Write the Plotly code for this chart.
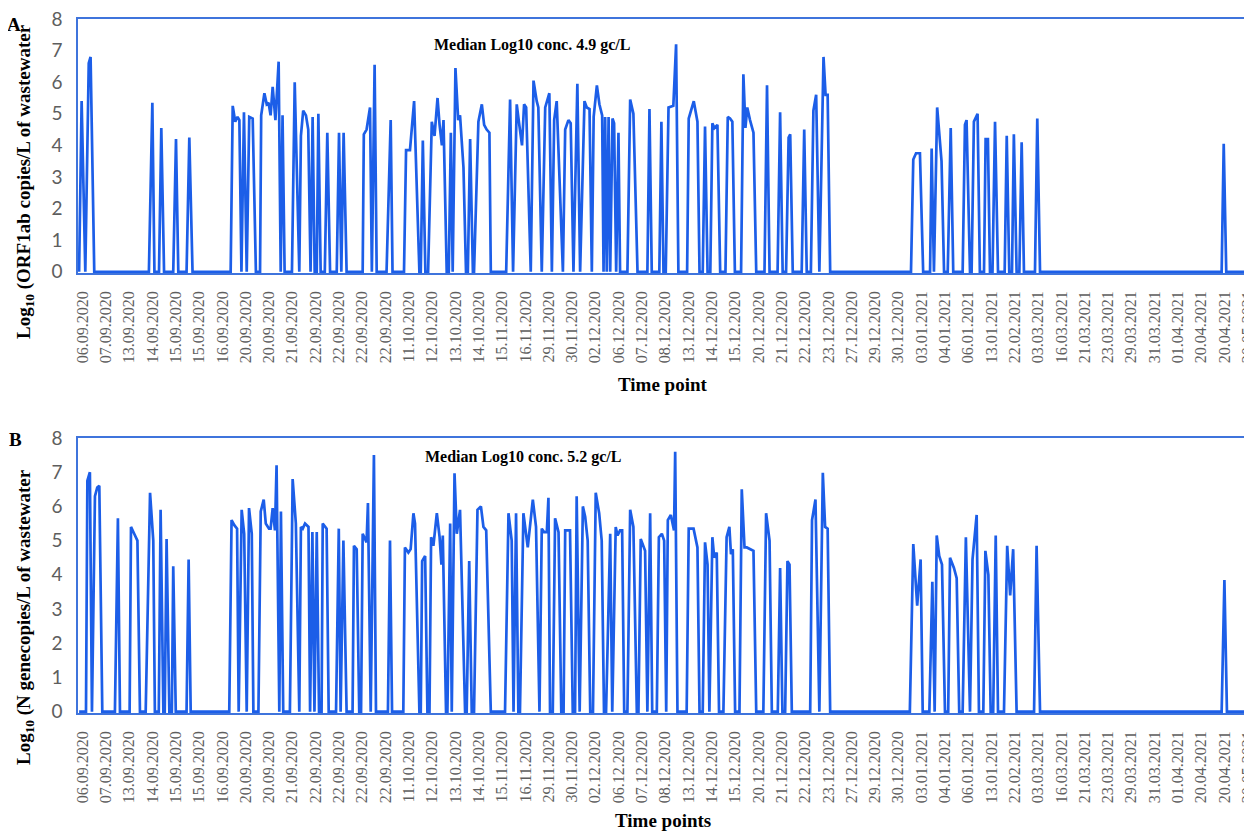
import plotly.graph_objects as go

# ---------------- data ----------------
dates = ["06.09.2020", "07.09.2020", "13.09.2020", "14.09.2020", "15.09.2020", "15.09.2020",
         "16.09.2020", "20.09.2020", "20.09.2020", "21.09.2020", "22.09.2020", "22.09.2020",
         "22.09.2020", "22.09.2020", "11.10.2020", "12.10.2020", "13.10.2020", "14.10.2020",
         "15.11.2020", "16.11.2020", "29.11.2020", "30.11.2020", "02.12.2020", "06.12.2020",
         "07.12.2020", "08.12.2020", "13.12.2020", "14.12.2020", "15.12.2020", "20.12.2020",
         "21.12.2020", "22.12.2020", "23.12.2020", "27.12.2020", "29.12.2020", "30.12.2020",
         "03.01.2021", "04.01.2021", "06.01.2021", "13.01.2021", "22.02.2021", "03.03.2021",
         "16.03.2021", "21.03.2021", "23.03.2021", "29.03.2021", "31.03.2021", "01.04.2021",
         "20.04.2021", "20.04.2021", "20.05.2021"]

# Panel A: ORF1ab (sample position, log10 gc/L)
a_pos = [0.0, 1.1, 2.7, 4.2, 5.0, 6.6, 30.4, 31.9, 32.8, 34.8, 35.8, 37.0, 41.0, 42.2, 43.2,
         46.8, 48.0, 49.4, 66.0, 66.9, 68.0, 69.0, 69.8, 70.7, 71.8, 73.0, 74.1, 75.6, 77.0,
         78.8, 79.3, 80.7, 81.7, 82.5, 83.4, 84.3, 85.5, 86.9, 87.8, 88.6, 89.5, 92.7, 93.9,
         95.9, 96.6, 97.6, 98.8, 99.8, 100.8, 101.7, 102.6, 103.5, 104.2, 105.2, 107.0, 108.1,
         109.3, 112.2, 113.2, 114.2, 115.2, 116.5, 123.5, 124.0, 125.2, 126.7, 127.5, 128.7,
         129.6, 133.9, 135.7, 136.5, 141.5, 142.4, 144.1, 145.9, 148.2, 148.8, 149.7, 150.8,
         152.0, 153.6, 154.8, 156.1, 157.0, 158.0, 158.7, 160.1, 161.0, 161.9, 162.7, 163.9,
         165.1, 165.9, 167.4, 168.5, 169.3, 170.3, 171.5, 172.0, 173.9, 175.4, 176.4, 177.5,
         178.7, 179.3, 186.0, 187.7, 189.0, 190.6, 191.8, 192.9, 193.8, 194.7, 196.7, 197.9,
         199.3, 200.0, 201.5, 203.0, 204.8, 205.9, 206.9, 208.0, 210.7, 211.7, 213.1, 214.1,
         215.3, 217.0, 218.2, 220.1, 221.1, 222.3, 223.3, 224.1, 225.5, 226.6, 227.8, 228.4,
         229.1, 229.8, 230.6, 231.3, 232.3, 233.0, 233.9, 234.9, 235.6, 238.8, 240.0, 241.4,
         243.2, 247.5, 248.4, 249.4, 252.7, 253.6, 254.5, 255.5, 256.7, 258.8, 260.0, 261.0,
         264.8, 265.5, 267.7, 269.3, 270.2, 271.6, 272.6, 273.7, 274.9, 275.8, 276.7, 278.0,
         279.2, 281.5, 282.5, 283.5, 284.5, 285.6, 288.3, 289.3, 290.2, 291.0, 292.2, 293.7,
         294.9, 298.5, 299.6, 300.7, 304.2, 305.3, 306.4, 307.9, 309.0, 309.7, 310.8, 314.7,
         315.8, 316.9, 318.7, 319.8, 321.0, 322.4, 324.2, 325.1, 326.0, 327.1, 362.3, 363.3,
         364.5, 366.2, 367.6, 370.6, 371.3, 372.3, 373.7, 375.6, 376.7, 378.3, 379.6, 380.7,
         384.8, 385.8, 386.5, 388.0, 388.7, 389.7, 391.3, 392.3, 394.1, 394.8, 395.8, 396.7,
         397.8, 398.9, 400.2, 403.1, 404.0, 405.1, 406.3, 407.1, 408.3, 409.5, 410.5, 411.5,
         416.3, 417.3, 418.5, 497.6, 498.5, 499.6, 515.0]
a_val = [0, 5.4, 0, 6.6, 6.8, 0, 0, 5.35, 0, 0, 4.55, 0, 0, 4.2, 0,
         0, 4.25, 0, 0, 5.25, 4.75, 4.9, 4.8, 0, 5.05, 0, 4.9, 4.85, 0,
         0, 4.95, 5.65, 5.3, 5.35, 4.95, 5.85, 4.8, 6.65, 0, 4.95, 0, 0, 6.0,
         0, 4.3, 5.1, 4.95, 4.5, 0, 4.9, 0, 0, 5.0, 0, 0, 4.4,
         0, 0, 4.4, 0, 4.4, 0, 0, 4.35, 4.5, 5.2, 0, 6.55,
         0, 0, 4.8, 0, 0, 3.85, 3.85, 5.4, 0, 0, 4.15, 0,
         0, 4.75, 4.3, 5.5, 4.65, 4.0, 4.8, 0, 0, 4.4, 0, 6.45,
         4.8, 4.95, 3.3, 0, 0, 4.2, 0, 0, 4.75, 5.3, 4.65, 4.5,
         4.4, 0, 0, 5.45, 0, 5.3, 4.6, 4.0, 5.3, 5.2, 0, 6.05,
         5.4, 5.2, 0, 5.2, 5.65, 0, 4.8, 5.4, 0, 4.5, 4.8, 4.7,
         0, 5.95, 0, 5.4, 5.2, 5.15, 0, 4.9, 5.9, 5.3, 4.95, 0,
         4.9, 0, 4.9, 0, 4.85, 4.7, 0, 4.4, 0, 0, 5.45, 5.0,
         0, 0, 5.15, 0, 0, 4.75, 0, 0, 5.2, 5.25, 7.2, 0,
         0, 4.85, 5.4, 4.75, 0, 0, 4.6, 0, 0, 4.7, 4.55, 4.65,
         0, 0, 4.9, 4.85, 4.75, 0, 0, 6.25, 4.55, 5.2, 4.8, 4.4,
         0, 0, 5.9, 0, 0, 5.05, 0, 0, 4.25, 4.35, 0, 0,
         4.5, 0, 0, 5.1, 5.6, 0, 6.8, 5.6, 5.6, 0, 0, 3.55,
         3.75, 3.75, 0, 0, 3.9, 0, 5.2, 3.5, 0, 0, 4.55, 0,
         0, 4.65, 4.8, 0, 0, 4.75, 5.0, 0, 0, 4.2, 4.2, 0,
         0, 4.75, 0, 0, 4.3, 0, 0, 4.35, 0, 0, 4.1, 0,
         0, 4.85, 0, 0, 4.05, 0, 0]

# Panel B: N gene (sample position, log10 gc/L)
b_pos = [0.0, 3.0, 3.6, 4.7, 5.6, 6.9, 7.9, 8.8, 10.1, 15.6, 16.9, 17.8, 22.0, 22.6, 24.0,
         25.4, 26.5, 29.0, 30.9, 32.3, 33.0, 34.7, 35.5, 36.7, 37.3, 38.1, 39.3, 40.4, 41.0,
         42.1, 46.8, 47.7, 48.6, 65.4, 66.4, 67.6, 68.8, 69.5, 70.8, 71.9, 73.0, 74.0, 75.2,
         75.9, 78.1, 79.1, 80.4, 81.3, 82.7, 83.4, 84.3, 85.3, 86.0, 87.2, 87.9, 88.9, 91.8,
         93.0, 94.4, 95.9, 96.6, 97.4, 98.4, 99.9, 100.6, 101.6, 102.5, 103.5, 104.5, 105.6,
         106.1, 107.8, 108.7, 111.9, 113.1, 113.9, 115.1, 116.5, 119.1, 119.7, 120.9, 122.0,
         122.8, 123.5, 125.2, 125.8, 127.0, 128.4, 129.3, 134.5, 135.4, 136.3, 141.2, 141.9,
         143.4, 144.4, 145.6, 146.3, 148.2, 148.8, 149.4, 150.7, 151.7, 152.6, 153.3, 154.3,
         155.8, 157.0, 157.8, 158.4, 159.8, 160.4, 161.6, 162.3, 163.5, 164.5, 165.9, 168.1,
         168.8, 169.9, 171.0, 172.0, 173.5, 175.0, 176.1, 177.3, 179.3, 185.5, 187.0, 188.4,
         189.2, 190.3, 191.3, 192.0, 193.5, 195.4, 197.6, 199.0, 200.5, 201.5, 202.5, 203.7,
         204.4, 205.1, 206.3, 207.3, 208.8, 210.0, 211.0, 211.7, 213.8, 215.0, 216.0, 216.7,
         218.0, 219.4, 220.4, 221.5, 222.6, 223.8, 225.0, 226.5, 227.6, 228.6, 229.5, 231.3,
         232.2, 233.7, 234.5, 235.6, 236.5, 237.4, 238.8, 240.0, 241.4, 242.9, 243.6, 244.6,
         246.5, 247.5, 248.7, 249.6, 251.6, 252.5, 253.8, 254.8, 255.7, 256.4, 257.7, 259.1,
         259.6, 260.6, 264.6, 265.5, 267.6, 269.3, 270.2, 271.6, 272.6, 273.7, 274.5, 275.8,
         276.6, 277.7, 278.7, 280.6, 282.0, 283.2, 283.9, 284.7, 285.7, 287.6, 288.6, 289.8,
         290.8, 292.2, 293.7, 294.9, 298.0, 299.2, 300.7, 301.7, 304.3, 305.3, 306.3, 307.5,
         308.5, 309.4, 310.4, 318.4, 319.2, 320.7, 322.4, 323.9, 324.9, 326.0, 327.1, 361.8,
         363.3, 365.0, 366.5, 367.4, 370.3, 371.6, 372.6, 373.5, 374.6, 375.8, 377.1, 378.5,
         379.3, 381.0, 382.2, 383.3, 384.8, 386.2, 388.0, 389.1, 390.9, 391.9, 393.8, 394.7,
         396.0, 397.0, 398.1, 399.2, 400.2, 402.8, 404.2, 405.5, 406.8, 408.3, 415.9, 417.0,
         418.5, 497.6, 498.8, 499.9, 515.0]
b_val = [0, 0, 6.75, 7.0, 0, 6.3, 6.55, 6.6, 0, 0, 5.65, 0, 0, 5.4, 5.2,
         5.0, 0, 0, 6.4, 5.0, 0, 0, 5.9, 0, 0, 5.05, 0, 0, 4.25,
         0, 0, 4.45, 0, 0, 5.6, 5.45, 5.35, 0, 5.9, 5.2, 0, 5.95, 5.2,
         0, 0, 5.85, 6.2, 5.5, 5.35, 5.35, 5.95, 5.3, 7.2, 0, 5.85, 0, 0,
         6.8, 5.5, 0, 5.4, 5.35, 5.5, 5.4, 0, 5.25, 0, 5.25, 0, 0,
         5.5, 5.35, 0, 0, 5.35, 0, 5.0, 0, 0, 4.85, 4.75, 0,
         0, 5.2, 4.95, 6.1, 0, 7.5, 0, 0, 5.0, 0, 0, 4.8,
         4.65, 4.75, 5.8, 5.5, 0, 0, 4.4, 4.55, 0, 0, 5.1, 4.85,
         5.8, 5.1, 4.3, 5.15, 0, 0, 5.5, 0, 6.97, 5.2, 5.9, 0,
         0, 4.4, 0, 0, 5.9, 6.0, 5.4, 5.3, 0, 0, 5.8, 5.0,
         0, 5.8, 0, 0, 5.8, 4.8, 6.2, 5.4, 0, 5.35, 5.25, 5.25,
         6.25, 0, 0, 5.65, 5.25, 0, 0, 5.3, 5.3, 0, 0, 6.3,
         0, 6.0, 5.7, 5.0, 0, 0, 6.4, 5.8, 5.0, 0, 0, 5.2,
         0, 5.4, 5.15, 5.3, 5.3, 0, 0, 5.9, 5.4, 0, 0, 5.05,
         4.7, 0, 5.8, 0, 0, 5.1, 5.2, 5.0, 0, 5.6, 5.75, 5.3,
         7.6, 0, 0, 5.35, 5.35, 4.8, 0, 0, 4.95, 4.3, 0, 5.1,
         4.5, 4.65, 0, 0, 5.1, 5.4, 4.6, 4.75, 0, 0, 6.5, 4.8,
         4.8, 4.75, 4.7, 0, 0, 5.8, 5.0, 0, 0, 4.2, 0, 0,
         4.4, 4.3, 0, 0, 5.6, 6.2, 0, 6.98, 5.4, 5.35, 0, 0,
         4.9, 3.1, 4.45, 0, 0, 3.8, 0, 5.15, 4.55, 4.3, 0, 0,
         4.5, 4.2, 3.9, 0, 0, 5.1, 0, 4.45, 5.75, 0, 0, 4.7,
         4.0, 0, 0, 5.15, 0, 0, 4.85, 3.4, 4.75, 0, 0, 4.85,
         0, 0, 3.85, 0, 0]

median_a = "Median Log10 conc. 4.9 gc/L"
median_b = "Median Log10 conc. 5.2 gc/L"

# ---------------- styling ----------------
W, H = 1252, 831
OFF = 8  # page body margin offset compensation
LINE = "#1c5ee8"
BORDER = "#3f74dc"
TICK_GRAY = "#5e5e5e"
SERIF = "Liberation Serif, Times New Roman, serif"
SANS = "Lato, Open Sans, sans-serif"

tick_pos = [1.5 + 10.15 * i for i in range(len(dates))]

def px(x):
    return (x - OFF) / W

def py(y):
    return 1 - (y - OFF) / H

fig = go.Figure()
fig.add_trace(go.Scatter(x=a_pos, y=a_val, mode="lines", xaxis="x", yaxis="y",
                         line=dict(color=LINE, width=2.7), hoverinfo="skip", showlegend=False))
fig.add_trace(go.Scatter(x=b_pos, y=b_val, mode="lines", xaxis="x2", yaxis="y2",
                         line=dict(color=LINE, width=2.7), hoverinfo="skip", showlegend=False))

xcommon = dict(range=[-0.48, 514.3], tickmode="array", tickvals=tick_pos, ticktext=dates,
               tickangle=-90, tickfont=dict(family=SERIF, size=16, color=TICK_GRAY),
               showline=True, linecolor=BORDER, linewidth=1.5, mirror=True,
               showgrid=False, zeroline=False, ticks="", ticklabelstandoff=10,
               ticklabeloverflow="allow", automargin=False, domain=[px(78), 1.0])
ycommon = dict(range=[-0.04, 8], tickmode="linear", tick0=0, dtick=1,
               tickfont=dict(family=SANS, size=19, color=TICK_GRAY),
               showline=True, linecolor=BORDER, linewidth=1.5, mirror=False,
               showgrid=False, zeroline=False, ticks="", ticklabelstandoff=10,
               ticklabeloverflow="allow", automargin=False)

fig.update_layout(
    width=W, height=H, autosize=False,
    margin=dict(l=0, r=0, t=0, b=0, pad=0),
    paper_bgcolor="white", plot_bgcolor="white",
    xaxis=dict(xcommon, anchor="y"),
    yaxis=dict(ycommon, anchor="x", domain=[py(273), py(19)]),
    xaxis2=dict(xcommon, anchor="y2"),
    yaxis2=dict(ycommon, anchor="x2", domain=[py(713), py(438)]),
)

def ann(text, x, y, size, angle=0, weight="bold"):
    fig.add_annotation(text=text, xref="paper", yref="paper", x=px(x), y=py(y),
                       xanchor="center", yanchor="middle", showarrow=False,
                       textangle=angle, font=dict(family=SERIF, size=size, color="black",
                                                  weight=weight))

ann("A", 14, 25, 19)
ann("B", 15, 440, 19)
ann(median_a, 532, 45, 16)
ann(median_b, 523, 457, 16)
ann("Log<sub>10</sub> (ORF1ab copies/L of wastewater", 25, 182, 19, angle=-90)
ann("Log<sub>10</sub> (N genecopies/L of wastewater", 25, 617, 19, angle=-90)
ann("Time point", 663, 385, 19)
ann("Time points", 663, 820, 19)

fig.write_html("out.html")
